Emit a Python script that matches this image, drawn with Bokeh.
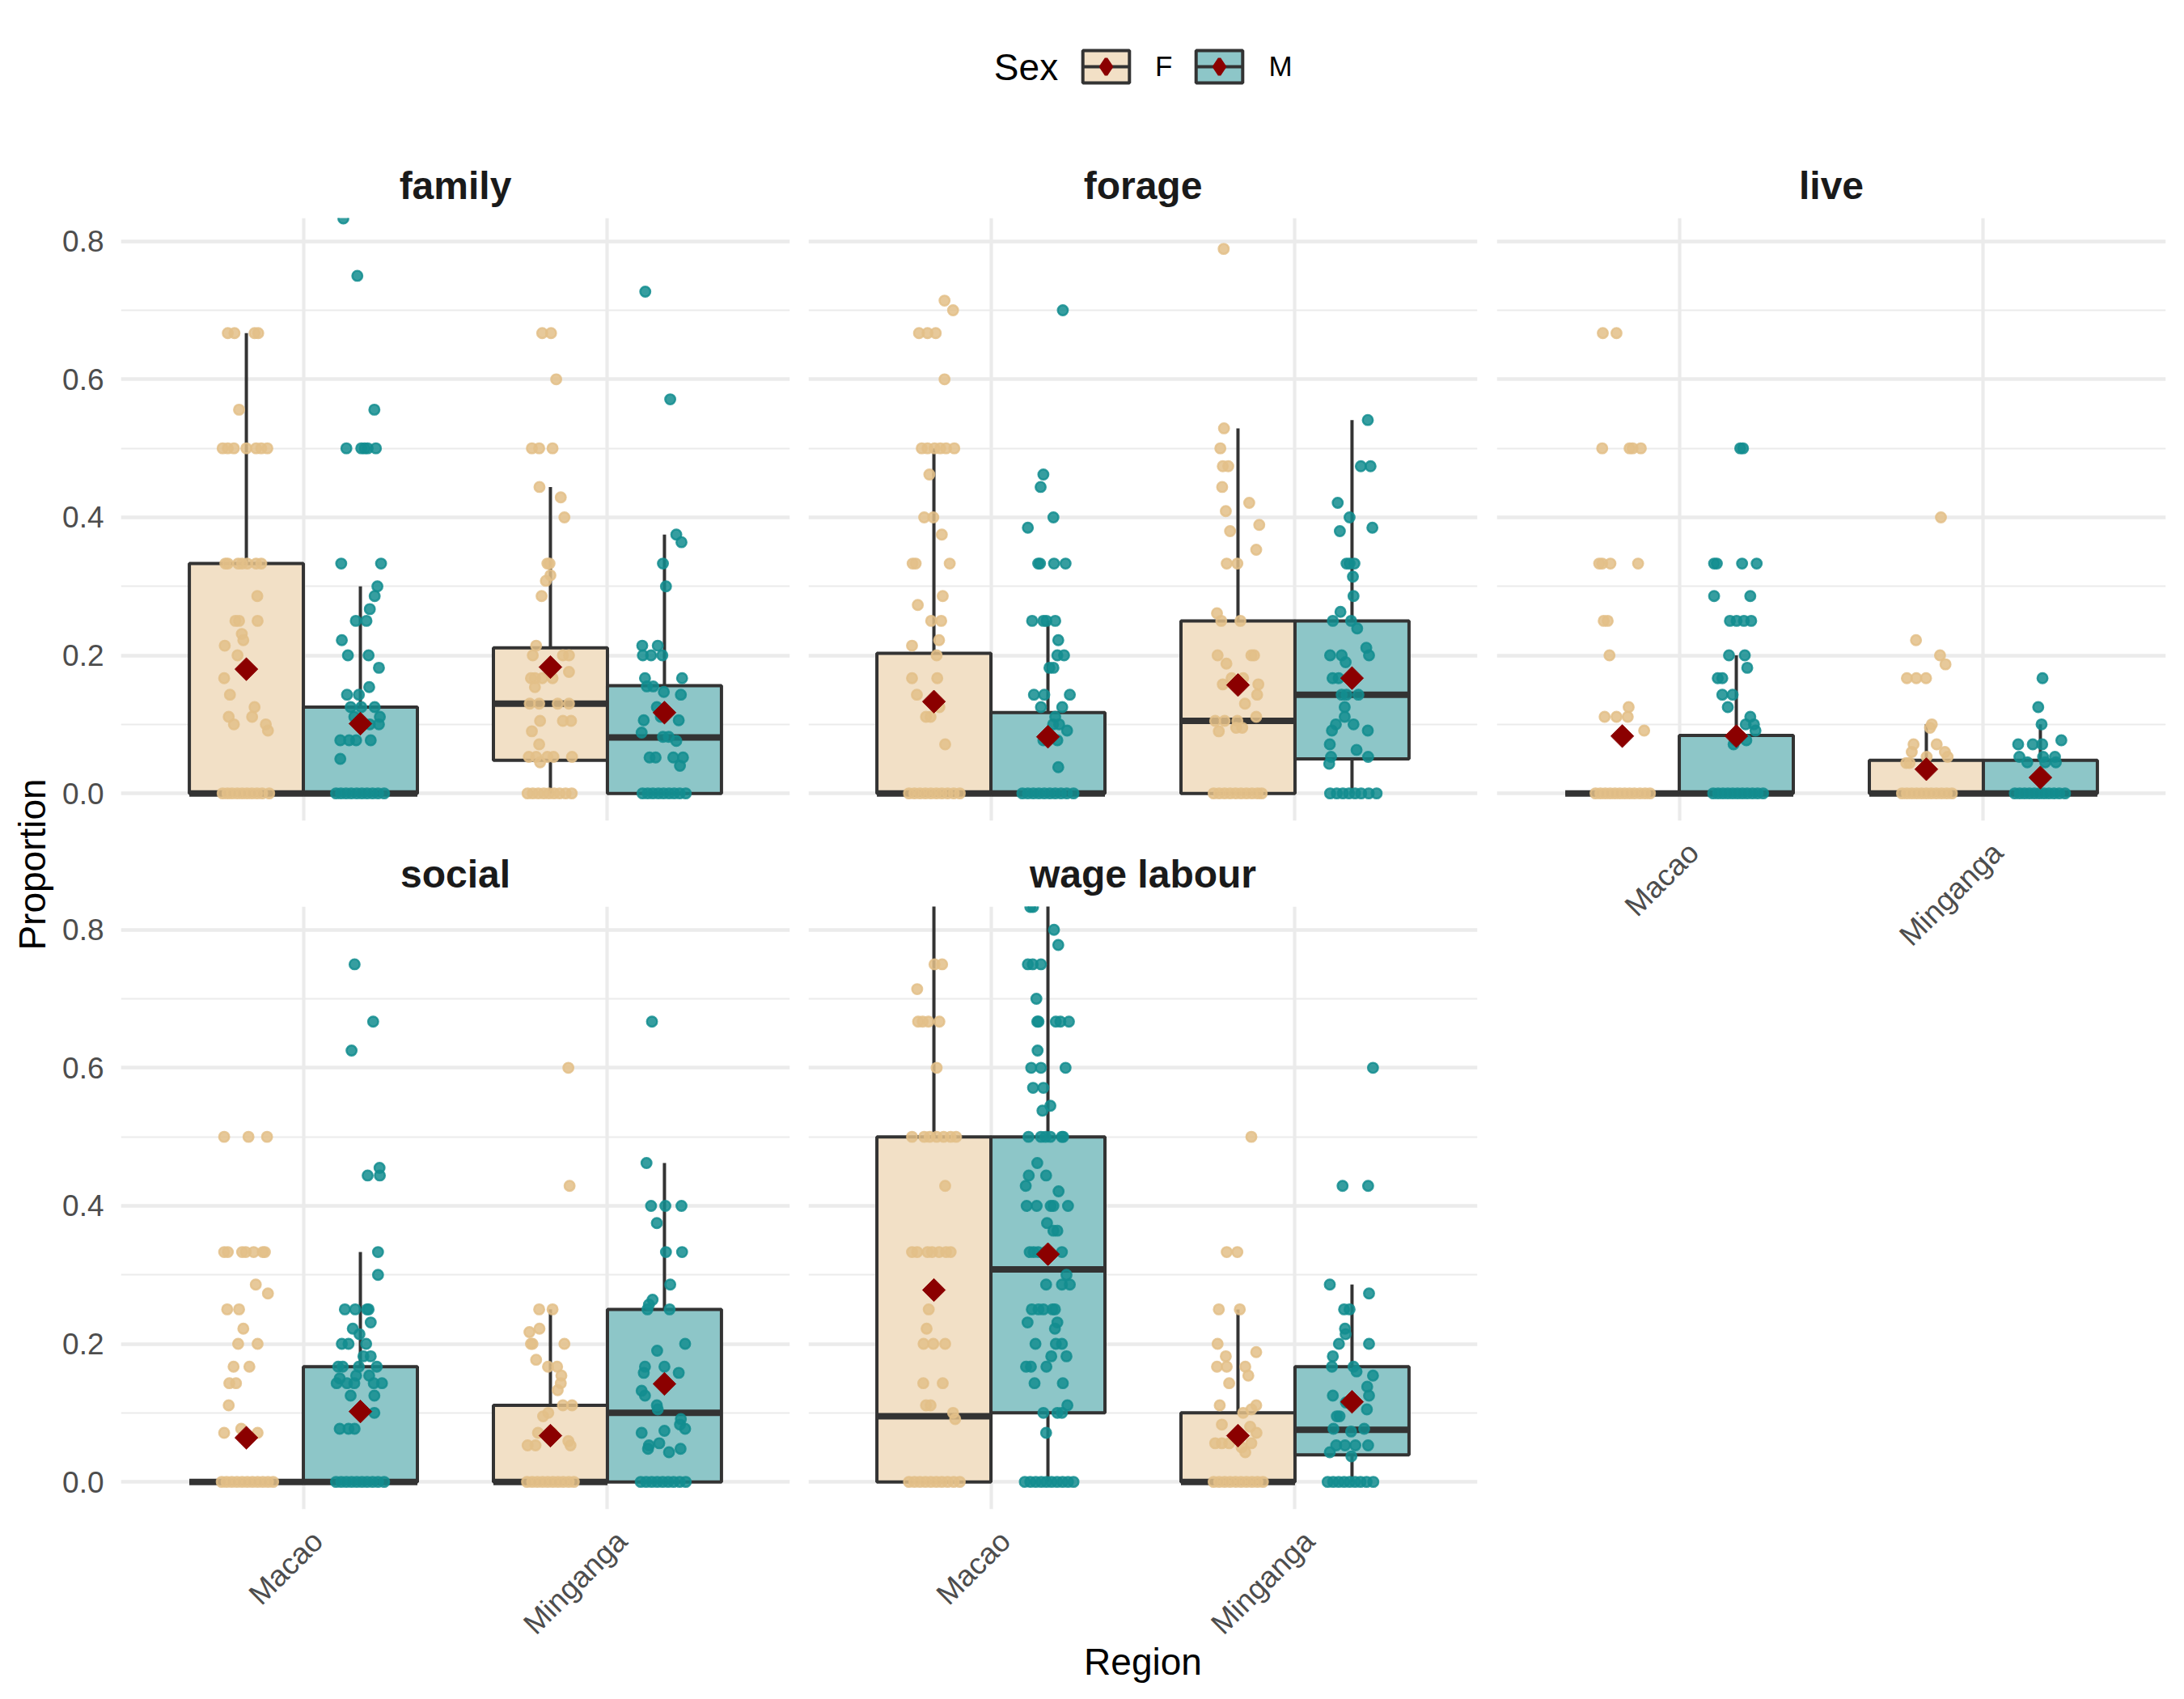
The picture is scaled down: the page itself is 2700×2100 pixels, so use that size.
import math
from bokeh.plotting import figure
from bokeh.layouts import row, column
from bokeh.models import (Range1d, FixedTicker, NumeralTickFormatter, Label, Legend,
                          LegendItem, ColumnDataSource, Grid)
from bokeh.embed import file_html
from bokeh.resources import INLINE

# ---------------------------------------------------------------- data
activities = ["family", "forage", "live", "social", "wage labour"]
regions = ["Macao", "Minganga"]
sexes = ["F", "M"]

# box statistics, order: activity -> region -> sex  (Macao F, Macao M, Minganga F, Minganga M)
box_q1 = [0, 0, 0.048, 0,   0, 0, 0, 0.05,   0, 0, 0, 0,   0, 0, 0, 0,   0, 0.1, 0, 0.039]
box_median = [0, 0, 0.13, 0.081,   0, 0, 0.105, 0.143,   0, 0, 0, 0,   0, 0, 0, 0.1,   0.095, 0.308, 0, 0.0755]
box_q3 = [0.333, 0.125, 0.211, 0.156,   0.203, 0.117, 0.25, 0.25,   0, 0.084, 0.048, 0.048,
          0, 0.167, 0.111, 0.25,   0.5, 0.5, 0.1, 0.167]
whisker_low = [0, 0, 0, 0,   0, 0, 0, 0,   0, 0, 0, 0,   0, 0, 0, 0,   0, 0, 0, 0]
whisker_high = [0.667, 0.3, 0.444, 0.375,   0.5, 0.25, 0.529, 0.541,   0, 0.2, 0.1, 0.1,
                0, 0.333, 0.25, 0.462,   1.0, 1.0, 0.25, 0.286]
group_mean = [0.180, 0.101, 0.183, 0.117,   0.133, 0.082, 0.157, 0.167,   0.083, 0.083, 0.035, 0.023,
              0.064, 0.102, 0.067, 0.142,   0.278, 0.330, 0.067, 0.116]

family_macao_F = [0.667, 0.667, 0.667, 0.667, 0.556, 0.5, 0.5, 0.5, 0.5, 0.5, 0.5, 0.5,
                  0.333, 0.333, 0.333, 0.333, 0.333, 0.333, 0.333, 0.286, 0.25, 0.25, 0.25,
                  0.231, 0.222, 0.214, 0.2, 0.167, 0.143, 0.125, 0.111, 0.111, 0.1, 0.1, 0.091,
                  0, 0, 0, 0, 0, 0, 0, 0, 0, 0]
family_macao_F_jit = [-0.061, -0.039, 0.027, 0.039, -0.024, -0.078, -0.061, -0.041, 0, 0.032, 0.049, 0.069,
                      -0.069, -0.061, -0.027, -0.014, 0.003, 0.032, 0.049, 0.036, -0.036, -0.024, 0.037,
                      -0.015, -0.01, -0.071, -0.029, -0.073, -0.054, 0.027, -0.058, 0.019, -0.041, 0.064, 0.071,
                      -0.078, -0.062, -0.047, -0.03, -0.014, 0.002, 0.018, 0.035, 0.052, 0.075]
family_macao_M = [0.833, 0.75, 0.556, 0.5, 0.5, 0.5, 0.5, 0.5, 0.333, 0.333, 0.3, 0.286, 0.267,
                  0.25, 0.25, 0.222, 0.2, 0.2, 0.182, 0.154, 0.143, 0.143, 0.125, 0.125, 0.125,
                  0.111, 0.111, 0.1, 0.1, 0.077, 0.077, 0.077, 0.077, 0.05,
                  0, 0, 0, 0, 0, 0, 0, 0, 0, 0]
family_macao_M_jit = [-0.056, -0.01, 0.046, -0.046, 0.003, 0.014, 0.024, 0.051, -0.063, 0.068, 0.056, 0.047, 0.031,
                      -0.015, 0.02, -0.061, -0.041, 0.027, 0.061, 0.029, -0.044, -0.005, -0.032, 0.003, 0.047,
                      -0.02, 0.064, 0.031, 0.061, -0.066, -0.037, -0.014, 0.034, -0.066,
                      -0.08, -0.064, -0.047, -0.03, -0.012, 0.005, 0.022, 0.04, 0.058, 0.078]
family_ming_F = [0.667, 0.667, 0.6, 0.5, 0.5, 0.5, 0.444, 0.429, 0.4, 0.333, 0.333, 0.316, 0.308, 0.286,
                 0.214, 0.2, 0.2, 0.2, 0.176, 0.167, 0.167, 0.167, 0.167, 0.154, 0.13, 0.13, 0.13, 0.13,
                 0.105, 0.105, 0.105, 0.09, 0.071, 0.053, 0.053, 0.053, 0.053, 0.053, 0.045,
                 0, 0, 0, 0, 0, 0, 0, 0, 0]
family_ming_F_jit = [-0.027, 0.002, 0.019, -0.061, -0.037, 0.007, -0.036, 0.034, 0.046, -0.01, -0.003, 0, -0.015, -0.029,
                     -0.047, -0.058, 0.041, 0.061, 0.061, -0.064, -0.051, -0.027, 0.007, -0.051, -0.068, -0.037, 0.024, 0.061,
                     -0.034, 0.041, 0.068, -0.061, -0.037, -0.071, -0.047, -0.01, 0.01, 0.071, -0.034,
                     -0.075, -0.058, -0.04, -0.022, -0.005, 0.012, 0.03, 0.05, 0.07]
family_ming_M = [0.727, 0.571, 0.375, 0.364, 0.333, 0.3, 0.214, 0.214, 0.2, 0.2, 0.2, 0.167, 0.167,
                 0.155, 0.155, 0.147, 0.143, 0.125, 0.111, 0.106, 0.106, 0.088, 0.082, 0.082, 0.076,
                 0.052, 0.052, 0.052, 0.052, 0.04,
                 0, 0, 0, 0, 0, 0, 0, 0, 0]
family_ming_M_jit = [-0.063, 0.019, 0.039, 0.056, -0.005, 0.005, -0.073, -0.022, -0.071, -0.044, -0.007, -0.064, 0.058,
                     -0.058, -0.037, -0.002, 0.054, -0.025, -0.012, -0.068, 0.047, -0.075, -0.005, 0.014, 0.039,
                     -0.049, -0.029, 0.029, 0.061, 0.051,
                     -0.072, -0.055, -0.038, -0.02, -0.003, 0.015, 0.032, 0.05, 0.07]

forage_macao_F = [0.714, 0.7, 0.667, 0.667, 0.667, 0.6, 0.5, 0.5, 0.5, 0.5, 0.5, 0.5, 0.462, 0.4, 0.4,
                  0.375, 0.333, 0.333, 0.333, 0.286, 0.273, 0.25, 0.25, 0.222, 0.214, 0.2, 0.167, 0.167,
                  0.143, 0.125, 0.111, 0.111, 0.071,
                  0, 0, 0, 0, 0, 0, 0, 0, 0, 0]
forage_macao_F_jit = [0.035, 0.063, -0.049, -0.021, 0.006, 0.035, -0.04, -0.021, 0.002, 0.021, 0.04, 0.067, -0.015, -0.032, -0.002,
                      0.026, -0.07, -0.06, 0.052, 0.029, -0.053, -0.009, 0.024, 0.017, -0.072, 0.009, -0.072, 0.011,
                      -0.056, 0.018, -0.026, -0.011, 0.037,
                      -0.082, -0.064, -0.046, -0.028, -0.01, 0.008, 0.026, 0.045, 0.065, 0.085]
forage_macao_M = [0.7, 0.462, 0.444, 0.4, 0.385, 0.333, 0.333, 0.333, 0.333, 0.25, 0.25, 0.25, 0.25,
                  0.222, 0.2, 0.2, 0.182, 0.182, 0.143, 0.143, 0.143, 0.125, 0.125, 0.111, 0.1, 0.1,
                  0.091, 0.077, 0.077, 0.038,
                  0, 0, 0, 0, 0, 0, 0, 0, 0, 0]
forage_macao_M_jit = [0.049, -0.015, -0.024, 0.018, -0.066, -0.032, -0.026, 0.02, 0.058, -0.052, -0.015, -0.005, 0.024,
                      0.034, 0.031, 0.053, 0.005, 0.018, -0.046, -0.012, 0.072, -0.023, 0.047, 0.024, 0.017, 0.037,
                      0.063, -0.015, 0.031, 0.034,
                      -0.084, -0.066, -0.048, -0.03, -0.012, 0.006, 0.024, 0.043, 0.062, 0.084]
forage_ming_F = [0.789, 0.529, 0.5, 0.474, 0.474, 0.444, 0.421, 0.409, 0.389, 0.38, 0.353, 0.333, 0.333,
                 0.261, 0.25, 0.25, 0.2, 0.2, 0.2, 0.188, 0.167, 0.167, 0.158, 0.158, 0.143, 0.13, 0.111,
                 0.105, 0.105, 0.105, 0.095, 0.095, 0.09,
                 0, 0, 0, 0, 0, 0, 0, 0, 0, 0]
forage_ming_F_jit = [-0.047, -0.046, -0.058, -0.05, -0.032, -0.052, 0.037, -0.04, 0.07, -0.026, 0.06, -0.037, -0.002,
                     -0.069, -0.055, 0.008, -0.067, 0.044, 0.053, -0.038, -0.021, 0.017, -0.05, 0.067, 0.063, 0.023, 0.06,
                     -0.075, -0.044, -0.002, -0.006, 0.014, -0.063,
                     -0.08, -0.062, -0.044, -0.026, -0.008, 0.01, 0.028, 0.046, 0.064, 0.078]
forage_ming_M = [0.541, 0.474, 0.474, 0.421, 0.4, 0.385, 0.38, 0.333, 0.333, 0.333, 0.314, 0.286, 0.263,
                 0.25, 0.25, 0.239, 0.211, 0.2, 0.2, 0.2, 0.19, 0.167, 0.167, 0.143, 0.143, 0.143, 0.125,
                 0.111, 0.1, 0.1, 0.091, 0.091, 0.071, 0.063, 0.053, 0.053, 0.043,
                 0, 0, 0, 0, 0, 0, 0, 0]
forage_ming_M_jit = [0.052, 0.029, 0.061, -0.047, -0.008, 0.067, -0.04, -0.018, -0.008, 0.008, 0.003, 0.005, -0.038,
                     -0.063, -0.003, 0.017, 0.047, -0.072, -0.034, 0.056, -0.021, -0.064, -0.044, -0.034, -0.018, 0.021, -0.024,
                     -0.024, -0.053, 0.005, -0.066, 0.052, -0.073, 0.015, -0.069, 0.053, -0.075,
                     -0.072, -0.05, -0.03, -0.01, 0.01, 0.03, 0.055, 0.081]

live_macao_F = [0.667, 0.667, 0.5, 0.5, 0.5, 0.5, 0.333, 0.333, 0.333, 0.333, 0.25, 0.25, 0.2, 0.125,
                0.111, 0.111, 0.111, 0.091,
                0, 0, 0, 0, 0, 0, 0, 0, 0, 0, 0, 0]
live_macao_F_jit = [-0.064, -0.019, -0.066, 0.024, 0.034, 0.061, -0.076, -0.066, -0.039, 0.052, -0.061, -0.048, -0.042, 0.021,
                    -0.058, -0.019, 0.018, 0.072,
                    -0.088, -0.072, -0.056, -0.04, -0.024, -0.008, 0.008, 0.024, 0.04, 0.058, 0.075, 0.091]
live_macao_M = [0.5, 0.5, 0.333, 0.333, 0.333, 0.333, 0.286, 0.286, 0.25, 0.25, 0.25, 0.25, 0.2, 0.2,
                0.182, 0.167, 0.167, 0.143, 0.143, 0.125, 0.111, 0.1, 0.1, 0.091, 0.077, 0.077, 0.071,
                0, 0, 0, 0, 0, 0, 0, 0, 0, 0, 0]
live_macao_M_jit = [0.013, 0.022, -0.073, -0.064, 0.019, 0.067, -0.073, 0.046, -0.021, 0.001, 0.025, 0.049, -0.024, 0.028,
                    0.036, -0.061, -0.046, -0.046, -0.012, -0.028, 0.046, 0.031, 0.058, 0.063, -0.004, 0.033, -0.009,
                    -0.076, -0.06, -0.044, -0.028, -0.012, 0.004, 0.02, 0.036, 0.053, 0.07, 0.088]
live_ming_F = [0.4, 0.222, 0.2, 0.187, 0.167, 0.167, 0.167, 0.1, 0.095, 0.071, 0.071, 0.06, 0.06,
               0.053, 0.053, 0.044, 0.044,
               0, 0, 0, 0, 0, 0, 0, 0, 0, 0, 0]
live_ming_F_jit = [0.048, -0.034, 0.045, 0.063, -0.064, -0.033, -0.001, 0.018, 0.012, -0.042, 0.034, -0.048, 0.061,
                   0.07, 0.001, -0.066, -0.055,
                   -0.08, -0.064, -0.048, -0.032, -0.016, 0, 0.016, 0.033, 0.05, 0.067, 0.084]
live_ming_M = [0.167, 0.125, 0.1, 0.077, 0.071, 0.071, 0.071, 0.053, 0.053, 0.053, 0.045, 0.045, 0.045,
               0, 0, 0, 0, 0, 0, 0, 0, 0, 0, 0]
live_ming_M_jit = [0.007, -0.007, 0.004, 0.069, -0.073, -0.025, 0.006, -0.069, 0.009, 0.048, -0.043, 0.016, 0.051,
                   -0.084, -0.068, -0.052, -0.036, -0.02, -0.004, 0.012, 0.028, 0.045, 0.062, 0.081]

social_macao_F = [0.5, 0.5, 0.5, 0.333, 0.333, 0.333, 0.333, 0.333, 0.333, 0.333, 0.286, 0.273, 0.25, 0.25,
                  0.222, 0.2, 0.2, 0.167, 0.167, 0.143, 0.143, 0.111, 0.077, 0.071, 0.071,
                  0, 0, 0, 0, 0, 0, 0, 0, 0, 0, 0]
social_macao_F_jit = [-0.073, 0.007, 0.068, -0.073, -0.061, -0.014, -0.002, 0.024, 0.054, 0.061, 0.031, 0.071, -0.063, -0.024,
                      -0.01, -0.027, 0.037, -0.042, 0.01, -0.056, -0.034, -0.058, -0.017, -0.073, 0.037,
                      -0.081, -0.065, -0.048, -0.031, -0.014, 0.003, 0.02, 0.037, 0.054, 0.071, 0.088]
social_macao_M = [0.75, 0.667, 0.625, 0.455, 0.444, 0.444, 0.333, 0.3, 0.25, 0.25, 0.25, 0.25, 0.231, 0.222,
                  0.214, 0.2, 0.2, 0.2, 0.182, 0.182, 0.167, 0.167, 0.167, 0.167, 0.154, 0.154, 0.15,
                  0.143, 0.143, 0.143, 0.143, 0.143, 0.125, 0.125, 0.1, 0.077, 0.077, 0.077,
                  0, 0, 0, 0, 0, 0, 0, 0, 0, 0]
social_macao_M_jit = [-0.019, 0.042, -0.029, 0.063, 0.024, 0.064, 0.058, 0.058, -0.051, -0.017, 0.022, 0.027, 0.034, -0.025,
                      -0.003, -0.061, -0.039, 0.019, 0.01, 0.034, -0.073, -0.058, -0.005, 0.054, 0.029, -0.014, -0.068,
                      -0.078, -0.044, -0.02, 0.044, 0.071, -0.032, 0.046, 0.046, -0.068, -0.039, -0.019,
                      -0.08, -0.063, -0.046, -0.029, -0.012, 0.005, 0.022, 0.04, 0.058, 0.078]
social_ming_F = [0.6, 0.429, 0.25, 0.25, 0.222, 0.217, 0.2, 0.2, 0.2, 0.177, 0.167, 0.167, 0.154, 0.143,
                 0.133, 0.111, 0.111, 0.1, 0.095, 0.071, 0.071, 0.059, 0.053, 0.053, 0.053,
                 0, 0, 0, 0, 0, 0, 0, 0, 0, 0]
social_ming_F_jit = [0.059, 0.063, -0.037, 0.007, -0.036, -0.069, -0.064, -0.059, 0.046, -0.047, -0.008, 0.022, 0.036, 0.034,
                     0.024, 0.041, 0.071, -0.007, -0.024, -0.041, 0.005, 0.059, -0.075, -0.049, 0.066,
                     -0.077, -0.06, -0.043, -0.026, -0.009, 0.008, 0.025, 0.042, 0.06, 0.077]
social_ming_M = [0.667, 0.462, 0.4, 0.4, 0.4, 0.375, 0.333, 0.333, 0.286, 0.264, 0.257, 0.25, 0.25, 0.2,
                 0.19, 0.167, 0.167, 0.158, 0.158, 0.132, 0.125, 0.111, 0.105, 0.091, 0.083, 0.077, 0.074,
                 0.071, 0.056, 0.053, 0.048, 0.048, 0.043,
                 0, 0, 0, 0, 0, 0, 0, 0, 0]
social_ming_M_jit = [-0.041, -0.059, -0.044, 0.003, 0.056, -0.025, 0.005, 0.058, 0.019, -0.039, -0.051, -0.056, 0.017, 0.068,
                     -0.024, -0.064, 0, -0.068, 0.047, -0.075, -0.064, -0.025, -0.022, 0.054, 0.051, 0.068, 0,
                     -0.075, -0.017, -0.051, -0.054, 0.053, 0.015,
                     -0.078, -0.06, -0.042, -0.024, -0.006, 0.012, 0.03, 0.05, 0.07]

wage_macao_F = [1.0, 1.0, 0.75, 0.75, 0.714, 0.667, 0.667, 0.667, 0.667, 0.6,
                0.5, 0.5, 0.5, 0.5, 0.5, 0.5, 0.5, 0.429,
                0.333, 0.333, 0.333, 0.333, 0.333, 0.333, 0.333, 0.25, 0.222, 0.2, 0.2, 0.2,
                0.143, 0.143, 0.111, 0.111, 0.1, 0.091,
                0, 0, 0, 0, 0, 0, 0, 0, 0, 0]
wage_macao_F_jit = [-0.03, 0.03, 0.002, 0.027, -0.055, -0.052, -0.037, -0.018, 0.018, 0.009,
                    -0.072, -0.032, -0.014, 0.009, 0.032, 0.055, 0.073, 0.037,
                    -0.072, -0.055, -0.021, -0.006, 0.017, 0.04, 0.055, -0.017, -0.024, -0.034, -0.002, 0.037,
                    -0.035, 0.029, -0.026, -0.011, 0.063, 0.07,
                    -0.082, -0.064, -0.046, -0.028, -0.01, 0.008, 0.026, 0.045, 0.065, 0.085]
wage_macao_M = [1.0, 1.0, 1.0, 0.833, 0.833, 0.8, 0.778, 0.75, 0.75, 0.75, 0.7,
                0.667, 0.667, 0.667, 0.667, 0.667, 0.625, 0.6, 0.6, 0.6, 0.571, 0.571, 0.545, 0.538,
                0.5, 0.5, 0.5, 0.5, 0.5, 0.5, 0.462, 0.444, 0.444, 0.429, 0.421,
                0.4, 0.4, 0.4, 0.4, 0.4, 0.375, 0.364, 0.364,
                0.333, 0.333, 0.333, 0.333, 0.333, 0.3, 0.286, 0.286, 0.286,
                0.25, 0.25, 0.25, 0.25, 0.25, 0.231, 0.231, 0.222, 0.2, 0.2, 0.2, 0.182, 0.182,
                0.167, 0.167, 0.167, 0.143, 0.143, 0.111, 0.1, 0.1, 0.1, 0.071,
                0, 0, 0, 0, 0, 0, 0, 0, 0, 0]
wage_macao_M_jit = [-0.04, 0.0, 0.04, -0.058, -0.049, 0.02, 0.034, -0.066, -0.05, -0.023, -0.038,
                    -0.035, -0.031, 0.026, 0.041, 0.069, -0.034, -0.055, -0.023, 0.058, -0.049, -0.015, 0.008, -0.018,
                    -0.064, -0.023, -0.008, 0.008, 0.046, 0.05, -0.035, -0.063, -0.006, -0.073, 0.035,
                    -0.07, -0.037, 0.009, 0.018, 0.066, -0.003, 0.018, 0.031,
                    -0.06, -0.047, -0.032, -0.008, 0.046, 0.061, -0.006, 0.046, 0.072,
                    -0.053, -0.031, -0.015, 0.015, 0.023, -0.067, 0.031, 0.023, -0.041, 0.026, 0.046, 0.011, 0.061,
                    -0.072, -0.056, -0.005, -0.044, 0.049, 0.064, -0.015, 0.031, 0.046, -0.006,
                    -0.076, -0.058, -0.04, -0.022, -0.005, 0.012, 0.03, 0.048, 0.066, 0.084]
wage_ming_F = [0.5, 0.333, 0.333, 0.25, 0.25, 0.2, 0.188, 0.182, 0.167, 0.167, 0.167, 0.154, 0.143,
               0.111, 0.111, 0.105, 0.1, 0.083, 0.08, 0.071, 0.067, 0.056, 0.056, 0.056, 0.056, 0.05, 0.043,
               0, 0, 0, 0, 0, 0, 0, 0, 0, 0]
wage_ming_F_jit = [0.044, -0.037, -0.002, -0.063, 0.006, -0.067, 0.06, -0.04, -0.069, -0.037, 0.024, 0.034, -0.029,
                   -0.06, 0.06, 0.044, 0.017, -0.053, 0.04, 0.061, 0.002, -0.075, -0.053, -0.029, 0.044, 0.012, 0.024,
                   -0.08, -0.062, -0.044, -0.026, -0.008, 0.01, 0.028, 0.046, 0.064, 0.082]
wage_ming_M = [0.6, 0.429, 0.429, 0.286, 0.273, 0.25, 0.25, 0.222, 0.214, 0.2, 0.2, 0.182, 0.167, 0.167,
               0.16, 0.154, 0.138, 0.125, 0.125, 0.115, 0.105, 0.095, 0.095, 0.077, 0.077, 0.073,
               0.053, 0.053, 0.053, 0.053, 0.043, 0.037,
               0, 0, 0, 0, 0, 0, 0, 0, 0]
wage_ming_M_jit = [0.069, -0.031, 0.053, -0.073, 0.056, -0.026, -0.008, -0.023, -0.021, -0.043, 0.056, -0.063, -0.066, 0.005,
                   0.015, 0.069, 0.05, -0.063, 0.056, -0.02, 0.049, -0.05, -0.041, -0.061, 0.04, -0.003,
                   -0.052, -0.023, 0.011, 0.053, -0.073, -0.002,
                   -0.08, -0.062, -0.044, -0.026, -0.008, 0.01, 0.028, 0.048, 0.07]

point_lists = {
    ("family", "Macao", "F"): (family_macao_F, family_macao_F_jit),
    ("family", "Macao", "M"): (family_macao_M, family_macao_M_jit),
    ("family", "Minganga", "F"): (family_ming_F, family_ming_F_jit),
    ("family", "Minganga", "M"): (family_ming_M, family_ming_M_jit),
    ("forage", "Macao", "F"): (forage_macao_F, forage_macao_F_jit),
    ("forage", "Macao", "M"): (forage_macao_M, forage_macao_M_jit),
    ("forage", "Minganga", "F"): (forage_ming_F, forage_ming_F_jit),
    ("forage", "Minganga", "M"): (forage_ming_M, forage_ming_M_jit),
    ("live", "Macao", "F"): (live_macao_F, live_macao_F_jit),
    ("live", "Macao", "M"): (live_macao_M, live_macao_M_jit),
    ("live", "Minganga", "F"): (live_ming_F, live_ming_F_jit),
    ("live", "Minganga", "M"): (live_ming_M, live_ming_M_jit),
    ("social", "Macao", "F"): (social_macao_F, social_macao_F_jit),
    ("social", "Macao", "M"): (social_macao_M, social_macao_M_jit),
    ("social", "Minganga", "F"): (social_ming_F, social_ming_F_jit),
    ("social", "Minganga", "M"): (social_ming_M, social_ming_M_jit),
    ("wage labour", "Macao", "F"): (wage_macao_F, wage_macao_F_jit),
    ("wage labour", "Macao", "M"): (wage_macao_M, wage_macao_M_jit),
    ("wage labour", "Minganga", "F"): (wage_ming_F, wage_ming_F_jit),
    ("wage labour", "Minganga", "M"): (wage_ming_M, wage_ming_M_jit),
}

# ---------------------------------------------------------------- style
FONT = "Liberation Sans"
POINT_COL = {"F": "#E3BF88", "M": "#138D8F"}
BOX_FILL = {"F": "#F2E0C6", "M": "#8DC6C8"}
EDGE = "#333333"
MEAN_COL = "#8B0000"
GRID_COL = "#EBEBEB"
Y_LO, Y_HI = -0.0397, 0.8337
X_LO, X_HI = 0.4, 2.6
DODGE = 0.1875
LABEL_SHIFT = 0.047
BOX_LW = 4.0
MED_LW = 8.0

COL_W = [918, 850, 862]
COL_BL = [79, 11, 12]
COL_BR = [12, 12, 23]


def blank(width, height, col=None):
    """A figure without axes used as a strip for text."""
    kw = dict(min_border=0)
    if col is not None:
        kw = dict(min_border_left=COL_BL[col], min_border_right=COL_BR[col],
                  min_border_top=0, min_border_bottom=0)
    f = figure(width=width, height=height, x_range=Range1d(X_LO, X_HI), y_range=Range1d(0, height),
               output_backend="svg", toolbar_location=None, x_axis_location=None,
               y_axis_location=None, **kw)
    f.grid.visible = False
    f.outline_line_color = None
    f.background_fill_color = "white"
    f.border_fill_color = "white"
    return f


def strip(ai, col, height):
    f = blank(COL_W[col], height, col)
    f.add_layout(Label(x=(X_LO + X_HI) / 2, y=40, text=activities[ai], text_align="center",
                       text_baseline="middle", text_font=FONT, text_font_style="bold",
                       text_font_size="48px", text_color="#1A1A1A"))
    return f


def make_panel(ai, col, height, bbot, show_x, show_y, x_title=None):
    act = activities[ai]
    p = figure(width=COL_W[col], height=height,
               x_range=Range1d(X_LO, X_HI), y_range=Range1d(Y_LO, Y_HI),
               output_backend="svg", toolbar_location=None,
               x_axis_location="below" if show_x else None,
               y_axis_location="left" if show_y else None,
               min_border_left=COL_BL[col], min_border_right=COL_BR[col],
               min_border_top=0, min_border_bottom=bbot)
    p.outline_line_color = None
    p.background_fill_color = "white"
    p.border_fill_color = "white"
    p.grid.visible = False
    p.add_layout(Grid(dimension=0, ticker=FixedTicker(ticks=[1, 2]),
                      grid_line_color=GRID_COL, grid_line_width=4.2), "center")
    p.add_layout(Grid(dimension=1,
                      ticker=FixedTicker(ticks=[0, 0.2, 0.4, 0.6, 0.8], minor_ticks=[0.1, 0.3, 0.5, 0.7]),
                      grid_line_color=GRID_COL, grid_line_width=4.3,
                      minor_grid_line_color=GRID_COL, minor_grid_line_width=2.2), "center")

    box = dict(xc=[], left=[], right=[], q1=[], q3=[], med=[], lo=[], hi=[], mean=[], fill=[])
    pts = dict(x=[], y=[], c=[])
    for ri, reg in enumerate(regions):
        for si, sx in enumerate(sexes):
            g = ai * 4 + ri * 2 + si
            xc = (ri + 1) + (DODGE if si else -DODGE)
            box["xc"].append(xc)
            box["left"].append(xc - DODGE)
            box["right"].append(xc + DODGE)
            box["q1"].append(box_q1[g])
            box["q3"].append(box_q3[g])
            box["med"].append(box_median[g])
            box["lo"].append(whisker_low[g])
            box["hi"].append(whisker_high[g])
            box["mean"].append(group_mean[g])
            box["fill"].append(BOX_FILL[sx])
            vals, jit = point_lists[(act, reg, sx)]
            for v, j in zip(vals, jit):
                pts["x"].append(xc + j)
                pts["y"].append(v)
                pts["c"].append(POINT_COL[sx])
    bsrc = ColumnDataSource(box)
    psrc = ColumnDataSource(pts)

    p.segment(x0="xc", y0="q3", x1="xc", y1="hi", source=bsrc, line_color=EDGE, line_width=BOX_LW)
    p.segment(x0="xc", y0="q1", x1="xc", y1="lo", source=bsrc, line_color=EDGE, line_width=BOX_LW)
    p.quad(left="left", right="right", bottom="q1", top="q3", source=bsrc,
           fill_color="fill", line_color=EDGE, line_width=BOX_LW)
    p.segment(x0="left", y0="med", x1="right", y1="med", source=bsrc, line_color=EDGE, line_width=MED_LW)
    p.scatter(x="x", y="y", source=psrc, size=12.5, fill_color="c", line_color="c",
              fill_alpha=0.85, line_alpha=0.85, line_width=2.4)
    p.scatter(x="xc", y="mean", source=bsrc, marker="square", angle=math.pi / 4, size=20,
              fill_color=MEAN_COL, line_color=MEAN_COL)

    if show_y:
        ax = p.yaxis[0]
        ax.ticker = FixedTicker(ticks=[0, 0.2, 0.4, 0.6, 0.8])
        ax.formatter = NumeralTickFormatter(format="0.0")
    if show_x:
        ax = p.xaxis[0]
        ticks = [i + 1 + LABEL_SHIFT for i in range(len(regions))]
        ax.ticker = FixedTicker(ticks=ticks)
        ax.major_label_overrides = {t: r for t, r in zip(ticks, regions)}
        ax.major_label_orientation = math.pi / 4
        ax.major_label_standoff = 33
        if x_title:
            ax.axis_label = x_title
            ax.axis_label_text_font = FONT
            ax.axis_label_text_font_size = "46px"
            ax.axis_label_text_font_style = "normal"
            ax.axis_label_text_color = "#000000"
            ax.axis_label_standoff = -17
    for ax in p.axis:
        ax.axis_line_color = None
        ax.major_tick_line_color = None
        ax.minor_tick_line_color = None
        ax.major_tick_out = 0
        ax.major_tick_in = 0
        ax.major_label_text_font = FONT
        ax.major_label_text_font_size = "37px"
        ax.major_label_text_color = "#4D4D4D"
    if show_y:
        p.yaxis[0].major_label_standoff = 21
    return p


# column 1: family / social
c1 = column(strip(0, 0, 89), make_panel(0, 0, 775, 30, False, True),
            strip(3, 0, 76), make_panel(3, 0, 980, 235, True, True))
# column 2: forage / wage labour (carries the x title)
c2 = column(strip(1, 1, 89), make_panel(1, 1, 775, 30, False, False),
            strip(4, 1, 76), make_panel(4, 1, 980, 235, True, False, x_title="Region"))
# column 3: live
c3 = column(strip(2, 2, 89), make_panel(2, 2, 1831, 1086, True, False))

# y-axis title strip
left = figure(width=70, height=1920, x_range=Range1d(0, 70), y_range=Range1d(0, 1920),
              output_backend="svg", toolbar_location=None, x_axis_location=None,
              y_axis_location=None, min_border=0)
left.grid.visible = False
left.outline_line_color = None
left.add_layout(Label(x=39, y=1032, text="Proportion", angle=math.pi / 2, text_align="center",
                      text_baseline="middle", text_font=FONT, text_font_size="46px",
                      text_color="#000000"))

# legend strip (legend keys use one off-canvas sample so that Bokeh draws their glyphs)
top = figure(width=2700, height=180, x_range=Range1d(0, 2700), y_range=Range1d(0, 180),
             output_backend="svg", toolbar_location=None, x_axis_location=None,
             y_axis_location=None, min_border=0)
top.grid.visible = False
top.outline_line_color = None
items = []
for sx in sexes:
    r_box = top.quad(left=[-60], right=[-50], top=[-50], bottom=[-60], fill_color=BOX_FILL[sx],
                     line_color=EDGE, line_width=BOX_LW)
    # the dash pattern keeps the key's median line inside the key box
    r_med = top.segment(x0=[-60], y0=[-55], x1=[-50], y1=[-55], line_color=EDGE, line_width=BOX_LW,
                        line_dash="0 7 58 200")
    r_mean = top.scatter(x=[-55], y=[-55], marker="diamond", size=20, fill_color=MEAN_COL,
                         line_color=MEAN_COL, line_width=4)
    items.append(LegendItem(label=sx, renderers=[r_box, r_med, r_mean]))
legend = Legend(items=items, orientation="horizontal", location=(1331, 73),
                glyph_width=72, glyph_height=50, label_standoff=25, spacing=22,
                label_text_font=FONT, label_text_font_size="35px", label_text_color="#000000",
                label_text_baseline="middle", border_line_color=None, background_fill_alpha=0,
                padding=0, margin=0)
top.add_layout(legend, "center")
top.add_layout(Label(x=1268, y=98, text="Sex", text_align="center", text_baseline="middle",
                     text_font=FONT, text_font_size="46px", text_color="#000000"))

layout = column(top, row(left, c1, c2, c3))

open("out.html", "w").write(file_html(layout, INLINE))
